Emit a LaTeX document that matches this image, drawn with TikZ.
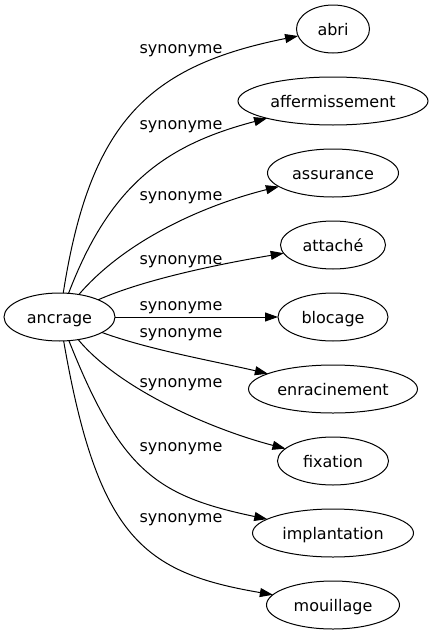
\documentclass[tikz,border=0pt]{standalone}
\usepackage{fontspec}
\setmainfont{DejaVu Sans}
\usetikzlibrary{shapes.geometric,arrows.meta}
\begin{document}
\begin{tikzpicture}[x=1pt,y=-1pt,
  word/.style={draw, ellipse, line width=1pt, inner sep=0pt, outer sep=0pt,
    minimum height=48pt, text height=12pt, text depth=0pt,
    font=\fontsize{16}{19}\selectfont},
  lab/.style={anchor=base, inner sep=0pt, font=\fontsize{16}{19}\selectfont},
  link/.style={line width=1pt, -{Triangle[length=13pt,width=9pt]}}]
\useasboundingbox (0,0) rectangle (433,635);
\node[word, minimum width=111pt] (anc) at (59.5,317) {ancrage};
\node[word, minimum width=73pt]  (abri) at (333,29) {abri};
\node[word, minimum width=190pt] (aff) at (333,101) {affermissement};
\node[word, minimum width=131pt] (ass) at (333,173) {assurance};
\node[word, minimum width=105pt] (att) at (333,245) {attaché};
\node[word, minimum width=110pt] (blo) at (333,317) {blocage};
\node[word, minimum width=169pt] (enr) at (333,389) {enracinement};
\node[word, minimum width=111pt] (fix) at (333,461) {fixation};
\node[word, minimum width=161pt] (imp) at (333,533) {implantation};
\node[word, minimum width=133pt] (mou) at (333,605) {mouillage};
\draw[link] (anc) .. controls (90,122) and (148,66) .. (abri);
\draw[link] (anc) .. controls (110,185) and (165,145) .. (aff);
\draw[link] (anc) .. controls (128,237.5) and (209,204) .. (ass);
\draw[link] (anc) .. controls (145,279) and (222.7,263.4) .. (att);
\draw[link] (anc) -- (blo);
\draw[link] (anc) .. controls (150,350) and (213.7,361) .. (enr);
\draw[link] (anc) .. controls (119.8,389.8) and (212.7,429.7) .. (fix);
\draw[link] (anc) .. controls (121,471.8) and (157.2,496) .. (imp);
\draw[link] (anc) .. controls (97.8,538) and (143.6,572.7) .. (mou);
\node[lab] (l1) at (181,53.7) {synonyme};
\node[lab] (l2) at (181,129.9) {synonyme};
\node[lab] (l3) at (181,200.1) {synonyme};
\node[lab] (l4) at (181,264.4) {synonyme};
\node[lab] (l5) at (181,310.4) {synonyme};
\node[lab] (l6) at (181,337.9) {synonyme};
\node[lab] (l7) at (181,387.1) {synonyme};
\node[lab] (l8) at (181,451.1) {synonyme};
\node[lab] (l9) at (181,522.7) {synonyme};
\end{tikzpicture}
\end{document}
